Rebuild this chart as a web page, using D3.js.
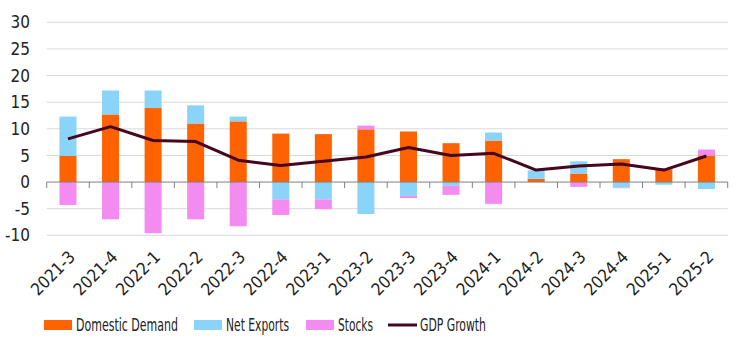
<!DOCTYPE html>
<html>
<head>
<meta charset="utf-8">
<script src="https://cdn.jsdelivr.net/npm/d3@7"></script>
<style>
  body { margin: 0; background: #fff; }
  svg text { font-family: "DejaVu Sans Condensed", "Liberation Sans", sans-serif; fill: #222; }
</style>
</head>
<body>
<div id="chart"></div>
<script>
// quarters on the x axis
const quarters = ["2021-3", "2021-4", "2022-1", "2022-2", "2022-3", "2022-4", "2023-1", "2023-2",
    "2023-3", "2023-4", "2024-1", "2024-2", "2024-3", "2024-4", "2025-1", "2025-2"];

// contributions (pp)
const domesticDemand = [4.9, 12.7, 13.9, 11.0, 11.4, 9.1, 9.0, 9.9, 9.5, 7.3, 7.8, 0.6, 1.6, 4.3, 2.4, 5.0];
const netExports = [7.4, 4.5, 3.3, 3.4, 0.9, -3.25, -3.25, -6.0, -2.6, -0.7, 1.5, 1.6, 2.3, -1.05, -0.5, -1.3];
const stocks = [-4.3, -7.0, -9.6, -7.0, -8.3, -2.95, -1.85, 0.7, -0.4, -1.7, -4.1, 0, -0.9, -0.1, 0.2, 1.1];
const gdpGrowth = [8.1, 10.4, 7.8, 7.6, 4.1, 3.1, 3.9, 4.7, 6.5, 5.0, 5.4, 2.25, 3.0, 3.4, 2.25, 4.9];

const yTicks = [-10, -5, 0, 5, 10, 15, 20, 25, 30];

const series = [
    {key: "Domestic Demand", values: domesticDemand, color: "#ff6200"},
    {key: "Net Exports", values: netExports, color: "#89d4f8"},
    {key: "Stocks", values: stocks, color: "#f38bf1"}
];
const lineColor = "#45061f";

const width = 748, height = 350;
const plot = {left: 46.7, right: 727.7, top: 22.3, bottom: 235.3};

const svg = d3.select("#chart").append("svg")
    .attr("width", width)
    .attr("height", height);

const x = d3.scaleBand()
    .domain(quarters)
    .range([plot.left, plot.right])
    .paddingInner(0.6)
    .paddingOuter(0.3);

const y = d3.scaleLinear()
    .domain([-10, 30])
    .range([plot.bottom, plot.top]);

// gridlines
svg.append("g")
    .selectAll("line")
    .data(yTicks.filter(d => d !== 0))
    .join("line")
    .attr("x1", plot.left)
    .attr("x2", plot.right)
    .attr("y1", d => y(d))
    .attr("y2", d => y(d))
    .attr("stroke", "#d9d9d9")
    .attr("stroke-width", 1);

// y labels
svg.append("g")
    .selectAll("text")
    .data(yTicks)
    .join("text")
    .attr("x", 30)
    .attr("y", d => y(d))
    .attr("dy", "0.36em")
    .attr("text-anchor", "end")
    .style("font-size", "17px")
    .text(d => d);

// stacked bars
const table = quarters.map((q, i) => {
    let row = {quarter: q};
    series.forEach(s => row[s.key] = s.values[i]);
    return row;
});

const stacked = d3.stack()
    .keys(series.map(s => s.key))
    .offset(d3.stackOffsetDiverging)(table);

svg.append("g")
    .selectAll("g")
    .data(stacked)
    .join("g")
    .attr("fill", (d, i) => series[i].color)
    .selectAll("rect")
    .data(d => d)
    .join("rect")
    .attr("x", d => x(d.data.quarter))
    .attr("width", x.bandwidth())
    .attr("y", d => y(Math.max(d[0], d[1])))
    .attr("height", d => Math.abs(y(d[0]) - y(d[1])));

// zero axis with ticks between categories
const step = x.step();
const x0 = plot.left;
svg.append("line")
    .attr("x1", plot.left)
    .attr("x2", plot.right)
    .attr("y1", y(0))
    .attr("y2", y(0))
    .attr("stroke", "#808080")
    .attr("stroke-width", 1);

svg.append("g")
    .selectAll("line")
    .data(d3.range(quarters.length + 1))
    .join("line")
    .attr("x1", i => x0 + i * step)
    .attr("x2", i => x0 + i * step)
    .attr("y1", y(0))
    .attr("y2", y(0) + 6)
    .attr("stroke", "#808080");

// GDP line
const line = d3.line()
    .x((d, i) => x(quarters[i]) + x.bandwidth() / 2)
    .y(d => y(d));

svg.append("path")
    .datum(gdpGrowth)
    .attr("d", line)
    .attr("fill", "none")
    .attr("stroke", lineColor)
    .attr("stroke-width", 3)
    .attr("stroke-linejoin", "round");

// x labels
svg.append("g")
    .selectAll("text")
    .data(quarters)
    .join("text")
    .attr("transform", d => "translate(" + (x(d) + x.bandwidth() / 2 + 4) + "," + 254 + ") rotate(-45)")
    .attr("text-anchor", "end")
    .attr("dy", "0.35em")
    .style("font-size", "17px")
    .text(d => d);

// legend
const legendItems = [
    {label: "Domestic Demand", color: series[0].color, x: 44, w: 102, type: "rect"},
    {label: "Net Exports", color: series[1].color, x: 194, w: 63, type: "rect"},
    {label: "Stocks", color: series[2].color, x: 306, w: 35, type: "rect"},
    {label: "GDP Growth", color: lineColor, x: 388, w: 66, type: "line"}
];
const ly = 325;
const legend = svg.append("g");
legendItems.forEach(item => {
    if (item.type === "rect") {
        legend.append("rect")
            .attr("x", item.x)
            .attr("y", ly - 5)
            .attr("width", 28)
            .attr("height", 10)
            .attr("fill", item.color);
    } else {
        legend.append("line")
            .attr("x1", item.x)
            .attr("x2", item.x + 29)
            .attr("y1", ly)
            .attr("y2", ly)
            .attr("stroke", item.color)
            .attr("stroke-width", 3);
    }
    legend.append("text")
        .attr("x", item.x + 32)
        .attr("y", ly)
        .attr("dy", "0.35em")
        .attr("textLength", item.w)
        .attr("lengthAdjust", "spacingAndGlyphs")
        .style("font-size", "18px")
        .text(item.label);
});
</script>
</body>
</html>
